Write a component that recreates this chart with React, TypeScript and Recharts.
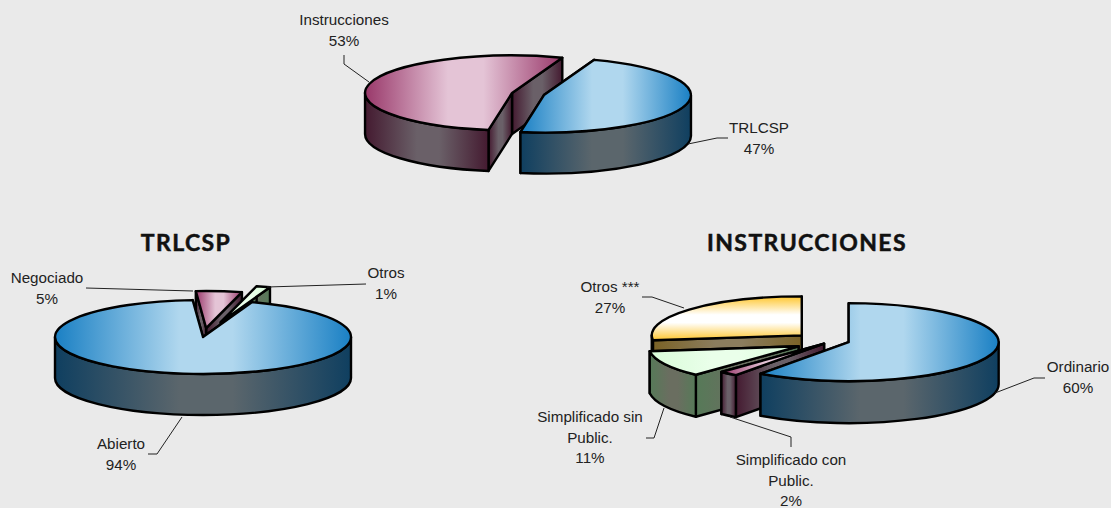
import { PieChart, Pie } from 'recharts'

const BG = '#eaeaea'

// values are listed back to front, that is the order they have to be painted in
const topNames = ['Instrucciones', 'TRLCSP']
const topValues = [53, 47]
const topPercents = ['53%', '47%']

const leftNames = ['Negociado', 'Otros', 'Abierto']
const leftValues = [5, 1.5, 93.5]
const leftPercents = ['5%', '1%', '94%']

const rightNames = ['Otros ***', 'Simplificado sin Public.', 'Simplificado con Public.', 'Ordinario']
const rightValues = [27, 11, 2, 60]
const rightPercents = ['27%', '11%', '2%', '60%']

const toRows = (names: string[], values: number[], percents: string[]) =>
  names.map((name, i) => ({ name, value: values[i], percent: percents[i] }))

const palettes: Record<string, { top: string[]; wall: string[]; vertical?: boolean }> = {
  blue: { top: ['#1a80c4', '#b0d7ee'], wall: ['#0f3f60', '#5b666c'] },
  pink: { top: ['#99386a', '#e4c4d6'], wall: ['#441a30', '#6a6068'] },
  green: { top: ['#d8fcd8', '#eaffea'], wall: ['#567a58', '#6a6e60'] },
  gold: { top: ['#ffc62e', '#ffffff'], wall: ['#7a6226', '#8b7d5e'], vertical: true },
}

interface PieLook {
  squash: number
  depth: number
  explode: Record<string, number>
  nudge?: Record<string, number[]>
  colors: Record<string, string>
  labels: Record<string, { x: number; lines: string[]; y: number; leader: string }>
}

const LINE_HEIGHT = 20.7

const topLook: PieLook = {
  squash: 0.255,
  depth: 41,
  explode: { Instrucciones: 16.5, TRLCSP: 16.5 },
  colors: { Instrucciones: 'pink', TRLCSP: 'blue' },
  labels: {
    Instrucciones: { x: 344, y: 25, lines: ['Instrucciones'], leader: '344,55 344,64 369,82' },
    TRLCSP: { x: 759, y: 133, lines: ['TRLCSP'], leader: '728,138 717,138 688,144' },
  },
}

const leftLook: PieLook = {
  squash: 0.25,
  depth: 41,
  explode: { Otros: 62, Negociado: 36, Abierto: 0 },
  colors: { Otros: 'green', Negociado: 'pink', Abierto: 'blue' },
  labels: {
    Otros: { x: 386, y: 278, lines: ['Otros'], leader: '366,284 267,287' },
    Negociado: { x: 47, y: 283, lines: ['Negociado'], leader: '86,288 193,291' },
    Abierto: { x: 121, y: 449, lines: ['Abierto'], leader: '148,454 157,454 182,417' },
  },
}

const rightLook: PieLook = {
  squash: 0.26,
  depth: 42,
  explode: {
    'Otros ***': 27,
    'Simplificado sin Public.': 28,
    'Simplificado con Public.': 3,
    Ordinario: 27,
  },
  nudge: {
    'Simplificado sin Public.': [1.5, 3],
    'Simplificado con Public.': [4, 3],
    Ordinario: [1, 0],
  },
  colors: {
    'Otros ***': 'gold',
    'Simplificado sin Public.': 'green',
    'Simplificado con Public.': 'pink',
    Ordinario: 'blue',
  },
  labels: {
    'Otros ***': { x: 610, y: 292, lines: ['Otros ***'], leader: '642,297 652,297 684,308' },
    'Simplificado sin Public.': {
      x: 590,
      y: 422,
      lines: ['Simplificado sin', 'Public.'],
      leader: '646,438 654,438 664,408',
    },
    'Simplificado con Public.': {
      x: 791,
      y: 465,
      lines: ['Simplificado con', 'Public.'],
      leader: '791,447 791,437 730,417',
    },
    Ordinario: { x: 1078, y: 372, lines: ['Ordinario'], leader: '1045,378 1034,378 995,393' },
  },
}

const rad = (deg: number) => (deg * Math.PI) / 180

// The pie gives us the angles, we just draw them squashed with a wall below
function makeSlice(look: PieLook) {
  return function Slice(props: any) {
    const { cx, cy, outerRadius, startAngle, endAngle, name } = props
    let a1 = Math.min(startAngle, endAngle)
    let a2 = Math.max(startAngle, endAngle)
    if (a1 < 0) {
      a1 += 360
      a2 += 360
    }
    const mid = rad((a1 + a2) / 2)
    const rx = outerRadius
    const ry = outerRadius * look.squash
    const e = look.explode[name] ?? 0
    const nudge = look.nudge?.[name] ?? [0, 0]
    const x0 = cx + e * Math.cos(mid) + nudge[0]
    const y0 = cy - e * Math.sin(mid) * look.squash + nudge[1]
    const d = look.depth

    const px = (a: number) => x0 + rx * Math.cos(rad(a))
    const py = (a: number) => y0 - ry * Math.sin(rad(a))
    const arc = (from: number, to: number, dy = 0) =>
      `A${rx},${ry} 0 ${to - from > 180 ? 1 : 0} 0 ${px(to)},${py(to) + dy}`

    const cut = (a: number) =>
      `M${x0},${y0} L${px(a)},${py(a)} L${px(a)},${py(a) + d} L${x0},${y0 + d} Z`

    const from = Math.max(a1, 180)
    const to = Math.min(a2, 360)
    const colorId = look.colors[name]

    const strokes = {
      stroke: '#000',
      strokeWidth: 2.4,
      strokeLinejoin: 'round' as const,
    }

    return (
      <g>
        <path d={cut(a1)} fill={`url(#${colorId}-wall)`} {...strokes} />
        <path d={cut(a2)} fill={`url(#${colorId}-wall)`} {...strokes} />
        {to > from && (
          <path
            d={`M${px(from)},${py(from)} ${arc(from, to)} L${px(to)},${py(to) + d} A${rx},${ry} 0 ${
              to - from > 180 ? 1 : 0
            } 1 ${px(from)},${py(from) + d} Z`}
            fill={`url(#${colorId}-wall)`}
            {...strokes}
          />
        )}
        <path
          d={`M${x0},${y0} L${px(a1)},${py(a1)} ${arc(a1, a2)} Z`}
          fill={`url(#${colorId}-top)`}
          {...strokes}
        />
      </g>
    )
  }
}

function makeLabel(look: PieLook) {
  return function SliceLabel(props: any) {
    const label = look.labels[props.name]
    if (!label) return null
    const lines = [...label.lines, props.payload?.percent ?? props.percent]
    return (
      <g>
        <polyline points={label.leader} fill="none" stroke="#222" strokeWidth={1} />
        <text
          x={label.x}
          y={label.y}
          textAnchor="middle"
          fontFamily="'Liberation Sans', Arial, sans-serif"
          fontSize={15.2}
          fill="#222"
        >
          {lines.map((line: string, i: number) => (
            <tspan key={i} x={label.x} y={label.y + i * LINE_HEIGHT}>
              {line}
            </tspan>
          ))}
        </text>
      </g>
    )
  }
}

function Gradients() {
  return (
    <defs>
      {Object.entries(palettes).map(([id, p]) => (
        <g key={id}>
          <linearGradient id={`${id}-top`} x1="0" y1="0" x2={p.vertical ? '0' : '1'} y2={p.vertical ? '1' : '0'}>
            <stop offset="0" stopColor={p.top[0]} />
            <stop offset="0.42" stopColor={p.top[1]} />
            <stop offset="0.6" stopColor={p.top[1]} />
            <stop offset="1" stopColor={p.top[0]} />
          </linearGradient>
          <linearGradient id={`${id}-wall`} x1="0" y1="0" x2="1" y2="0">
            <stop offset="0" stopColor={p.wall[0]} />
            <stop offset="0.42" stopColor={p.wall[1]} />
            <stop offset="0.6" stopColor={p.wall[1]} />
            <stop offset="1" stopColor={p.wall[0]} />
          </linearGradient>
        </g>
      ))}
    </defs>
  )
}

const titleStyle = {
  fontFamily: "Lato, 'Open Sans', sans-serif",
  fontWeight: 700,
  fontSize: 23,
  letterSpacing: 1.4,
  fill: '#111',
  stroke: '#111',
  strokeWidth: 0.5,
}

export default function App() {
  return (
    <div style={{ position: 'fixed', left: 0, top: 0, width: 1111, height: 508, background: BG }}>
      <PieChart width={1111} height={508} margin={{ top: 0, right: 0, bottom: 0, left: 0 }}>
        {Gradients()}
        <Pie
          data={toRows(topNames, topValues, topPercents)}
          dataKey="value"
          nameKey="name"
          cx={528}
          cy={94}
          outerRadius={147}
          startAngle={70}
          endAngle={430}
          isAnimationActive={false}
          shape={makeSlice(topLook)}
          label={makeLabel(topLook)}
          labelLine={false}
        />
        <Pie
          data={toRows(leftNames, leftValues, leftPercents)}
          dataKey="value"
          nameKey="name"
          cx={203}
          cy={337}
          outerRadius={148}
          startAngle={94}
          endAngle={-266}
          isAnimationActive={false}
          shape={makeSlice(leftLook)}
          label={makeLabel(leftLook)}
          labelLine={false}
        />
        <Pie
          data={toRows(rightNames, rightValues, rightPercents)}
          dataKey="value"
          nameKey="name"
          cx={822}
          cy={340}
          outerRadius={150}
          startAngle={90}
          endAngle={450}
          isAnimationActive={false}
          shape={makeSlice(rightLook)}
          label={makeLabel(rightLook)}
          labelLine={false}
        />
        <text x={186} y={251} textAnchor="middle" style={titleStyle}>
          TRLCSP
        </text>
        <text x={807} y={251} textAnchor="middle" style={titleStyle}>
          INSTRUCCIONES
        </text>
      </PieChart>
    </div>
  )
}
